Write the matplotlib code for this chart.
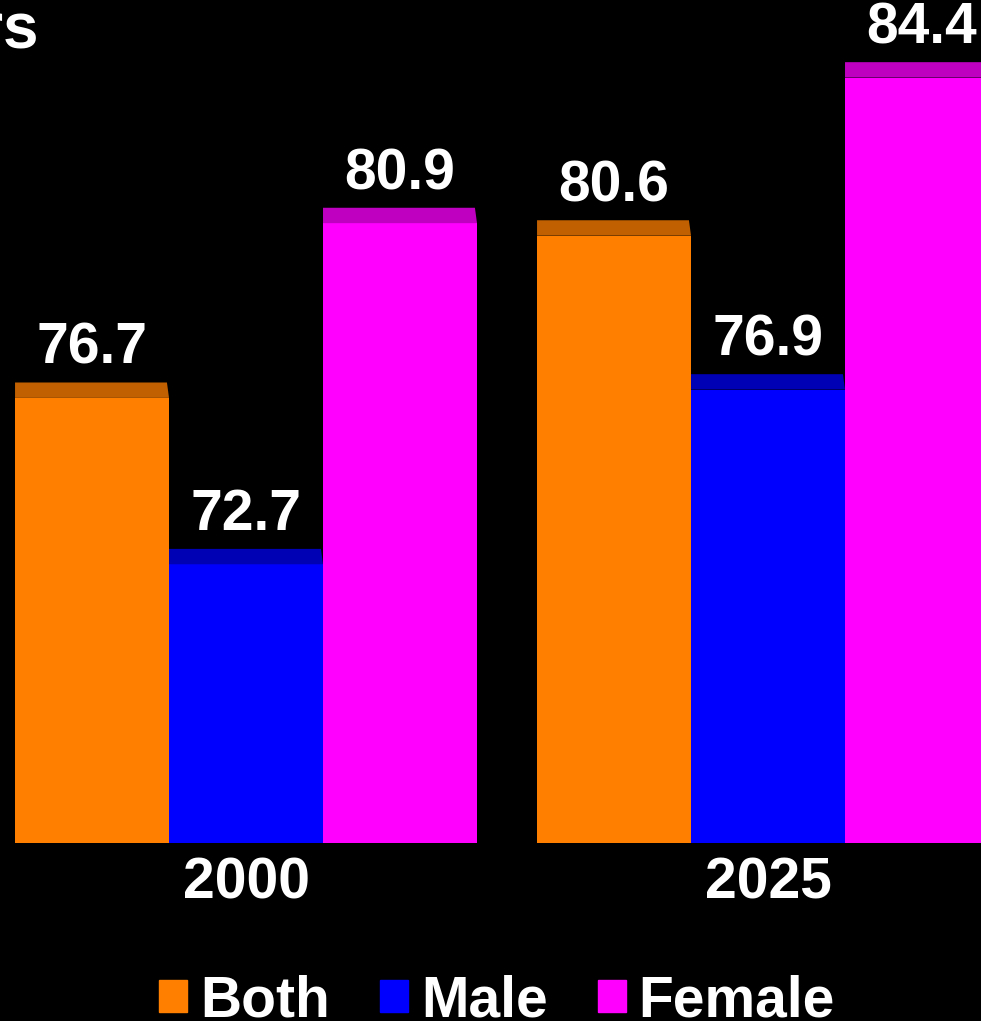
import matplotlib.pyplot as plt
from matplotlib.patches import Polygon, Patch
import numpy as np

# data
years = ['2000', '2025']
series = ['Both', 'Male', 'Female']
both = [76.7, 80.6]
male = [72.7, 76.9]
female = [80.9, 84.4]

colors = ['#ff8000', '#0000ff', '#ff00ff']
top_colors = ['#c06000', '#0000b4', '#c000c0']

plt.rcParams['font.family'] = ['Liberation Sans', 'DejaVu Sans']
plt.rcParams['font.weight'] = 'bold'

W, H = 981, 1021
fig = plt.figure(figsize=(W / 100, H / 100), dpi=100, facecolor='black')
ax = fig.add_axes([0, 178 / H, 1, 843 / H])
ax.set_facecolor('black')

base = 66.0
ppu = 41.6  # pixels per year on y
ax.set_ylim(base, base + 843 / ppu)
x = np.arange(len(years))
w = 0.295
ax.set_xlim(-0.4713, 1.408)
depth = 0.37
fs = 41

for i, vals in enumerate([both, male, female]):
    xs = x + (i - 1) * w
    ax.bar(xs, np.array(vals) - base, w, bottom=base, color=colors[i], linewidth=0)
    for xi, v in zip(xs, vals):
        # fake 3d top
        top = Polygon([(xi - w / 2, v), (xi + w / 2, v),
                       (xi + w / 2 - 0.004, v + depth), (xi - w / 2, v + depth)],
                      closed=True, facecolor=top_colors[i], edgecolor='none')
        ax.add_patch(top)
        ax.text(xi, v + depth + 0.45, f'{v:.1f}', ha='center', va='baseline',
                color='white', fontsize=fs, fontweight='bold', clip_on=False)

ax.set_xticks(x, years)
ax.set_yticks([])
ax.tick_params(axis='x', length=0, pad=10, labelsize=fs, labelcolor='white')
for s in ax.spines.values():
    s.set_visible(False)

fig.text(39 / W, 1 - 48 / H, 'Years', ha='right', va='baseline', fontsize=46,
         color='white', fontweight='bold')

handles = [Patch(color=c) for c in colors]
fig.legend(handles, series, loc='center', bbox_to_anchor=(497 / W, 1 - 1001 / H),
           ncol=3, frameon=False, fontsize=fs, handlelength=0.5, handleheight=0.5,
           handletextpad=0.22, columnspacing=0.88, labelcolor='white')

fig.savefig('out.png', dpi=100, facecolor='black')
